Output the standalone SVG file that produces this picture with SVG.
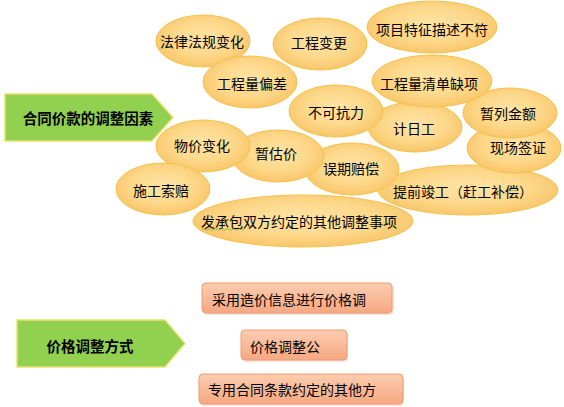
<svg xmlns="http://www.w3.org/2000/svg" width="564" height="407" viewBox="0 0 564 407">
<defs>
<radialGradient id="eg" cx="50%" cy="45%" r="55%">
<stop offset="0" stop-color="#FFE4A6"/>
<stop offset="0.6" stop-color="#FDD88A"/>
<stop offset="1" stop-color="#F9C66A"/>
</radialGradient>
<linearGradient id="rg" x1="0" y1="0" x2="0" y2="1">
<stop offset="0" stop-color="#FCCDB0"/>
<stop offset="1" stop-color="#F5A882"/>
</linearGradient>
</defs>
<style>
.e{fill:url(#eg);stroke:#F4C24A;stroke-width:1}
.t{font-family:"Noto Sans CJK SC","Microsoft YaHei",sans-serif;font-size:14px;fill:#000;text-anchor:middle;dominant-baseline:central}
.a{fill:#92D050;stroke:#EEE070;stroke-width:1.5}
.b{font-family:"Noto Sans CJK SC",sans-serif;font-size:14.5px;font-weight:bold;fill:#000;text-anchor:middle;dominant-baseline:central}
.r{fill:url(#rg);stroke:#EE9C72;stroke-width:1}
.s{fill:#E8C8B8;opacity:0.5}
</style>

<g id="arrow-factors">
<polygon class="a" points="5,94 152,94 173,117.5 152,141 5,141"/>
<text class="b" x="88" y="117">合同价款的调整因素</text>
</g>
<g id="arrow-methods">
<polygon class="a" points="17,320 165,320 185,343.5 165,367 17,367"/>
<text class="b" x="90" y="345">价格调整方式</text>
</g>

<g id="n-falv"><ellipse class="e" cx="203" cy="41" rx="47" ry="26"/><text class="t" x="202" y="41">法律法规变化</text></g>
<g id="n-biangeng"><ellipse class="e" cx="320" cy="44" rx="47" ry="26"/><text class="t" x="319" y="42">工程变更</text></g>
<g id="n-xiangmu"><ellipse class="e" cx="432" cy="27" rx="65" ry="26"/><text class="t" x="432" y="29">项目特征描述不符</text></g>
<g id="n-piancha"><ellipse class="e" cx="250" cy="82" rx="47" ry="26"/><text class="t" x="252" y="83">工程量偏差</text></g>
<g id="n-tiqian"><ellipse class="e" cx="468" cy="190" rx="90" ry="25"/><text class="t" x="463" y="191">提前竣工（赶工补偿）</text></g>
<g id="n-xianchang"><ellipse class="e" cx="514" cy="148" rx="47" ry="25"/><text class="t" x="518" y="147">现场签证</text></g>
<g id="n-zanlie"><ellipse class="e" cx="510" cy="113" rx="47" ry="25"/><text class="t" x="508" y="113">暂列金额</text></g>
<g id="n-jiri"><ellipse class="e" cx="415" cy="127" rx="47" ry="25"/><text class="t" x="414" y="128">计日工</text></g>
<g id="n-qingdan"><ellipse class="e" cx="432" cy="81" rx="60" ry="26"/><text class="t" x="429" y="83">工程量清单缺项</text></g>
<g id="n-buke"><ellipse class="e" cx="336" cy="111" rx="47" ry="26"/><text class="t" x="336" y="112">不可抗力</text></g>
<g id="n-wuqi"><ellipse class="e" cx="352" cy="169" rx="47" ry="26"/><text class="t" x="351" y="168">误期赔偿</text></g>
<g id="n-zangu"><ellipse class="e" cx="278" cy="156" rx="46" ry="26"/><text class="t" x="276" y="153">暂估价</text></g>
<g id="n-wujia"><ellipse class="e" cx="203" cy="146" rx="47" ry="26"/><text class="t" x="202" y="145">物价变化</text></g>
<g id="n-suopei"><ellipse class="e" cx="163" cy="189" rx="47" ry="26"/><text class="t" x="161" y="190">施工索赔</text></g>
<g id="n-qita"><ellipse class="e" cx="303" cy="221" rx="110" ry="26"/><text class="t" x="299" y="221">发承包双方约定的其他调整事项</text>
<path d="M202,229.5 q1.5,-1.5 3,0 t3,0 t3,0 t3,0 t3,0 t3,0 t3,0 t3,0 t3,0 t3,0 t3,0 t3,0 t3,0 t3,0" fill="none" stroke="#7FB040" stroke-width="0.8"/></g>

<g id="r-xinxi"><rect class="s" x="203" y="285" width="191" height="30" rx="4"/><rect class="r" x="202" y="283" width="190" height="30" rx="4"/><text class="t" x="289" y="299">采用造价信息进行价格调</text></g>
<g id="r-gongshi"><rect class="s" x="242" y="332" width="106" height="30" rx="4"/><rect class="r" x="241" y="330" width="106" height="30" rx="4"/><text class="t" x="285" y="346">价格调整公</text></g>
<g id="r-qitafang"><rect class="s" x="200" y="376" width="204" height="30" rx="4"/><rect class="r" x="199" y="374" width="204" height="30" rx="4"/><text class="t" x="292" y="389">专用合同条款约定的其他方</text></g>

<g id="connectors"/>
</svg>
